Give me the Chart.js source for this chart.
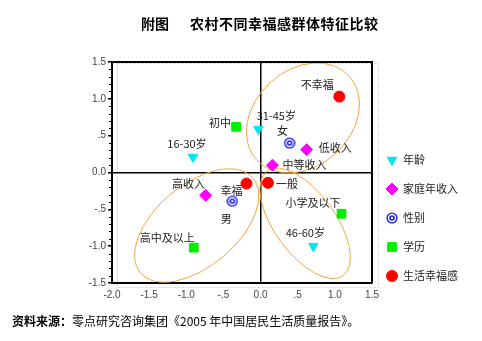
<!DOCTYPE html>
<html lang="zh-CN">
<head>
<meta charset="UTF-8">
<title>农村不同幸福感群体特征比较</title>
<script src="https://cdn.jsdelivr.net/npm/chart.js"></script>
<style>
  body { margin: 0; background: #fff; }
  .wrap { position: relative; width: 482px; height: 341px; font-family: "Noto Sans CJK SC", sans-serif; color: #000; }
  .wrap canvas { position: absolute; left: 0; top: 0; }
  .title { position: absolute; top: 14px; font-size: 14px; font-weight: bold; line-height: 18px; white-space: nowrap; }
  .source { position: absolute; left: 12px; top: 313px; font-size: 12px; line-height: 16px; white-space: nowrap; }
</style>
</head>
<body>
<div class="wrap">
  <canvas id="chart"></canvas>
  <div class="title" style="left:141px">附图</div>
  <div class="title" style="left:190px; letter-spacing:0.5px">农村不同幸福感群体特征比较</div>
  <div class="source"><b>资料来源：</b>零点研究咨询集团《2005 年中国居民生活质量报告》。</div>
</div>
<script>
// group coordinates (dimension 1 / dimension 2)
const ageLabels = ['16-30岁', '31-45岁', '46-60岁'];
const ageX = [-0.91, -0.03, 0.71];
const ageY = [0.21, 0.59, -1.00];

const incomeLabels = ['高收入', '中等收入', '低收入'];
const incomeX = [-0.74, 0.16, 0.62];
const incomeY = [-0.31, 0.10, 0.31];

const genderLabels = ['男', '女'];
const genderX = [-0.38, 0.39];
const genderY = [-0.39, 0.40];

const eduLabels = ['高中及以上', '初中', '小学及以下'];
const eduX = [-0.90, -0.33, 1.09];
const eduY = [-1.02, 0.62, -0.56];

const happyLabels = ['幸福', '一般', '不幸福'];
const happyX = [-0.19, 0.10, 1.06];
const happyY = [-0.15, -0.14, 1.03];

const seriesNames = ['年龄', '家庭年收入', '性别', '学历', '生活幸福感'];

const xTicks = [-2.0, -1.5, -1.0, -0.5, 0, 0.5, 1.0, 1.5];
const yTicks = [-1.5, -1.0, -0.5, 0, 0.5, 1.0, 1.5];

// circled clusters: centre, semi-axes (data units), tilt in degrees
const clusterX = [0.57, -0.86, 0.60];
const clusterY = [0.74, -0.72, -0.69];
const clusterA = [0.84, 0.99, 0.87];
const clusterB = [0.65, 0.55, 0.41];
const clusterAngle = [42, 40, -54];

// where each point's name sits relative to the marker (px)
const labelPlace = {
  '16-30岁': [-6, -13, 'center'],
  '31-45岁': [18, -13, 'center'],
  '46-60岁': [-8, -13, 'center'],
  '高收入': [-17, -12, 'center'],
  '中等收入': [10, 0, 'left'],
  '低收入': [12, -2, 'left'],
  '男': [-6, 18, 'center'],
  '女': [-7, -12, 'center'],
  '高中及以上': [1, -10, 'right'],
  '初中': [-5, -4, 'right'],
  '小学及以下': [-1, -11, 'right'],
  '幸福': [-15, 7, 'center'],
  '一般': [8, 1, 'left'],
  '不幸福': [-22, -12, 'center']
};

function toPoints(xs, ys, names) {
  return xs.map((x, i) => ({ x: x, y: ys[i], name: names[i] }));
}

// double ring marker for gender
function ringMarker() {
  const c = document.createElement('canvas');
  c.width = 12; c.height = 12;
  const g = c.getContext('2d');
  const rings = [[5.6, '#1a1aff'], [4.2, '#ffffff'], [2.8, '#1a1aff'], [1.2, '#ffffff']];
  rings.forEach(r => {
    g.beginPath();
    g.arc(6, 6, r[0], 0, Math.PI * 2);
    g.fillStyle = r[1];
    g.fill();
  });
  return c;
}

function fmtTick(v) {
  if (v === 0) return '0.0';
  if (Math.abs(v) < 1) return (v < 0 ? '-' : '') + '.5';
  return v.toFixed(1);
}

const frameAndClusters = {
  id: 'frameAndClusters',
  beforeDraw(chart) {
    const ctx = chart.ctx;
    ctx.save();
    ctx.strokeStyle = '#cfcfcf';
    ctx.lineWidth = 1;
    ctx.setLineDash([2, 2]);
    ctx.strokeRect(117.5, 63.5, 261, 224);
    ctx.restore();
  },
  beforeDatasetsDraw(chart) {
    const ctx = chart.ctx;
    const a = chart.chartArea;
    const xs = chart.scales.x, ys = chart.scales.y;
    const pxPerUnit = xs.getPixelForValue(1) - xs.getPixelForValue(0);
    ctx.save();
    ctx.beginPath();
    ctx.rect(a.left, a.top, a.right - a.left, a.bottom - a.top);
    ctx.clip();
    ctx.strokeStyle = '#f2a640';
    ctx.lineWidth = 1;
    clusterX.forEach((cx, i) => {
      ctx.beginPath();
      ctx.ellipse(xs.getPixelForValue(cx), ys.getPixelForValue(clusterY[i]),
        clusterA[i] * pxPerUnit, clusterB[i] * pxPerUnit,
        -clusterAngle[i] * Math.PI / 180, 0, Math.PI * 2);
      ctx.stroke();
    });
    ctx.restore();
  },
  afterDatasetsDraw(chart) {
    const ctx = chart.ctx;
    const a = chart.chartArea;
    const ys = chart.scales.y;
    ctx.save();
    // top and right edges of the frame
    ctx.strokeStyle = '#000';
    ctx.lineWidth = 2;
    ctx.beginPath();
    ctx.moveTo(a.left, a.top);
    ctx.lineTo(a.right, a.top);
    ctx.lineTo(a.right, a.bottom);
    ctx.stroke();
    // minor ticks on the vertical axis
    ctx.lineWidth = 1;
    for (let i = -15; i <= 15; i++) {
      if (i % 5 === 0) continue;
      const y = Math.round(ys.getPixelForValue(i / 10)) + 0.5;
      ctx.beginPath();
      ctx.moveTo(a.left - 3, y);
      ctx.lineTo(a.left, y);
      ctx.stroke();
    }
    // point names
    ctx.font = '11px "Noto Sans CJK SC", sans-serif';
    ctx.fillStyle = '#222';
    ctx.textBaseline = 'middle';
    chart.data.datasets.forEach((ds, di) => {
      const meta = chart.getDatasetMeta(di);
      ds.data.forEach((p, i) => {
        const el = meta.data[i];
        const place = labelPlace[p.name] || [0, -12, 'center'];
        ctx.textAlign = place[2];
        ctx.fillText(p.name, el.x + place[0], el.y + place[1]);
      });
    });
    ctx.restore();
  },
  afterDraw(chart) {
    // legend on the right
    const ctx = chart.ctx;
    ctx.save();
    ctx.font = '11px "Noto Sans CJK SC", sans-serif';
    ctx.textBaseline = 'middle';
    ctx.textAlign = 'left';
    chart.data.datasets.forEach((ds, i) => {
      const y = 160 + i * 29;
      ctx.fillStyle = ds.backgroundColor;
      ctx.strokeStyle = ds.borderColor;
      Chart.helpers.drawPoint(ctx, {
        pointStyle: ds.pointStyle,
        rotation: ds.pointRotation || 0,
        radius: ds.pointRadius,
        borderWidth: ds.borderWidth
      }, 392, y);
      ctx.fillStyle = '#222';
      ctx.fillText(ds.label, 403, y);
    });
    ctx.restore();
  }
};

const ctx = document.getElementById('chart').getContext('2d');
const chart = new Chart(ctx, {
  type: 'scatter',
  data: {
    datasets: [
      { label: seriesNames[0], data: toPoints(ageX, ageY, ageLabels), pointStyle: 'triangle', pointRotation: 180,
        pointRadius: 5.5, backgroundColor: '#00e5f0', borderColor: '#00e5f0', borderWidth: 1 },
      { label: seriesNames[1], data: toPoints(incomeX, incomeY, incomeLabels), pointStyle: 'rectRot',
        pointRadius: 6, backgroundColor: '#ff00ff', borderColor: '#ff00ff', borderWidth: 1 },
      { label: seriesNames[2], data: toPoints(genderX, genderY, genderLabels), pointStyle: ringMarker(),
        pointRadius: 6, backgroundColor: '#1a1aff', borderColor: '#1a1aff', borderWidth: 0 },
      { label: seriesNames[3], data: toPoints(eduX, eduY, eduLabels), pointStyle: 'rect',
        pointRadius: 6.2, backgroundColor: '#00f000', borderColor: '#00f000', borderWidth: 1 },
      { label: seriesNames[4], data: toPoints(happyX, happyY, happyLabels), pointStyle: 'circle',
        pointRadius: 5.5, backgroundColor: '#ff0000', borderColor: '#ff0000', borderWidth: 1 }
    ]
  },
  options: {
    responsive: true,
    maintainAspectRatio: false,
    animation: false,
    layout: { padding: { left: 72, right: 110, top: 62, bottom: 38 } },
    plugins: {
      legend: { display: false },
      tooltip: { enabled: false }
    },
    scales: {
      x: {
        type: 'linear',
        min: -2, max: 1.5,
        afterBuildTicks: s => { s.ticks = xTicks.map(v => ({ value: v })); },
        afterFit: s => { s.height = 20; },
        border: { display: true, color: '#000', width: 2 },
        grid: {
          drawTicks: false,
          color: c => (c.tick && c.tick.value === 0) ? '#000' : 'rgba(0,0,0,0)',
          lineWidth: 1.5
        },
        ticks: {
          padding: 6,
          maxRotation: 0,
          color: '#444',
          font: { family: 'Liberation Sans', size: 10 },
          callback: v => fmtTick(v)
        }
      },
      y: {
        type: 'linear',
        min: -1.5, max: 1.5,
        afterBuildTicks: s => { s.ticks = yTicks.map(v => ({ value: v })); },
        afterFit: s => { s.width = 40; },
        border: { display: true, color: '#000', width: 2 },
        grid: {
          drawTicks: true,
          tickLength: 4,
          tickColor: '#000',
          tickWidth: 1.5,
          color: c => (c.tick && c.tick.value === 0) ? '#000' : 'rgba(0,0,0,0)',
          lineWidth: 1.5
        },
        ticks: {
          padding: 2,
          color: '#444',
          font: { family: 'Liberation Sans', size: 10 },
          callback: v => fmtTick(v)
        }
      }
    }
  },
  plugins: [frameAndClusters]
});
</script>
</body>
</html>
